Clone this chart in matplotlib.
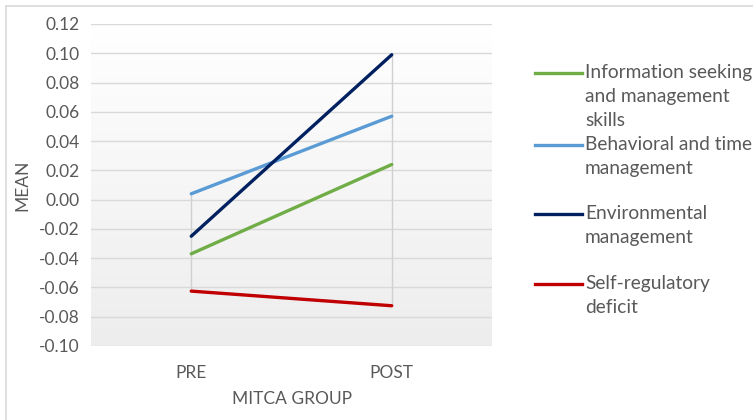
import numpy as np
import matplotlib
matplotlib.use("Agg")
import matplotlib.pyplot as plt
from matplotlib.lines import Line2D

plt.rcParams['font.family'] = ['Lato', 'DejaVu Sans']

categories = ["PRE", "POST"]
series_names = [
    "Information seeking\nand management\nskills",
    "Behavioral and time\nmanagement",
    "Environmental\nmanagement",
    "Self-regulatory\ndeficit",
]
info_seeking = [-0.037, 0.024]
behavioral_time = [0.004, 0.057]
environmental = [-0.025, 0.099]
self_regulatory = [-0.0625, -0.0725]
series_values = [info_seeking, behavioral_time, environmental, self_regulatory]
series_colors = ["#70ad47", "#5b9bd5", "#002060", "#c00000"]
y_ticks = [0.12, 0.10, 0.08, 0.06, 0.04, 0.02, 0.00, -0.02, -0.04, -0.06, -0.08, -0.10]

W, H = 753, 420
fig = plt.figure(figsize=(W / 100, H / 100), dpi=100)
fig.patch.set_facecolor("white")

# chart border (top and left edges)
fig.add_artist(Line2D([6 / W, 1.0], [1 - 6 / H, 1 - 6 / H], transform=fig.transFigure,
                      color="#d9d9d9", linewidth=1.2))
fig.add_artist(Line2D([6 / W, 6 / W], [0.0, 1 - 6 / H], transform=fig.transFigure,
                      color="#d9d9d9", linewidth=1.2))

ax = fig.add_axes([91 / W, 1 - 346 / H, 401 / W, 322 / H])
x = np.arange(len(categories))
ax.set_xlim(-0.5, len(categories) - 0.5)
ax.set_ylim(min(y_ticks), max(y_ticks))

# plot-area gradient: white at the top fading to light grey
grad = np.linspace(0, 1, 256).reshape(-1, 1)
cmap = matplotlib.colors.LinearSegmentedColormap.from_list("bg", ["#ffffff", "#ededed"])
ax.imshow(grad, extent=[-0.5, len(categories) - 0.5, min(y_ticks), max(y_ticks)],
          aspect="auto", cmap=cmap, zorder=0, origin="upper")

ax.set_yticks(y_ticks)
ax.set_yticklabels([f"{v:.2f}" for v in y_ticks])
ax.grid(axis="y", color="#d9d9d9", linewidth=1.0, zorder=1)
ax.set_axisbelow(True)

# high-low lines across series at each category
vals = np.array(series_values)
ax.vlines(x, vals.min(axis=0), vals.max(axis=0), color="#d0d0d0", linewidth=1.0, zorder=2)

for vals_s, col in zip(series_values, series_colors):
    ax.plot(x, vals_s, color=col, linewidth=2.4, solid_capstyle="round", zorder=3)

ax.set_xticks(x)
ax.set_xticklabels(categories)
for s in ax.spines.values():
    s.set_visible(False)
ax.tick_params(length=0, colors="#595959", labelsize=12.5)
ax.tick_params(axis="x", pad=14)
ax.tick_params(axis="y", pad=8)
ax.set_xlabel("MITCA GROUP", color="#595959", fontsize=12.5, labelpad=7)
ax.set_ylabel("MEAN", color="#595959", fontsize=12.5, labelpad=6)

# legend, each handle aligned with the first line of its label
legend_y = [73, 145, 214, 284]
for name, col, yy in zip(series_names, series_colors, legend_y):
    yf = 1 - yy / H
    fig.add_artist(Line2D([535 / W, 582 / W], [yf, yf], transform=fig.transFigure,
                          color=col, linewidth=2.4))
    fig.text(585 / W, yf + 9 / H, name, ha="left", va="top", color="#595959",
             fontsize=13.8, linespacing=1.5)

fig.savefig("out.png", dpi=100)
